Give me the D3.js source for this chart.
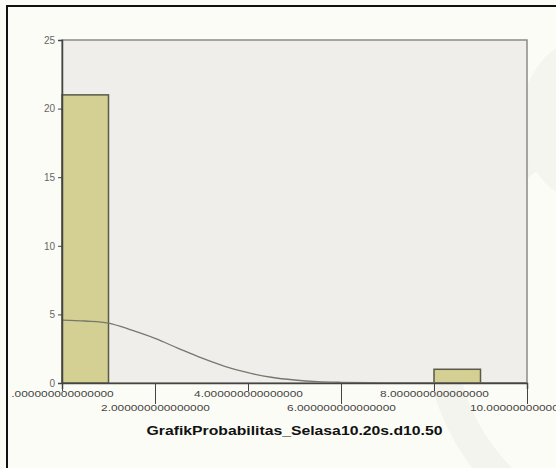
<!DOCTYPE html>
<html>
<head>
<meta charset="utf-8">
<script src="https://cdn.jsdelivr.net/npm/d3@7"></script>
<style>
  body { margin: 0; background: #fcfcf6; }
  svg { display: block; }
</style>
</head>
<body>
<div id="chart"></div>
<script>
// histogram bins (lower edge, upper edge, count)
const binStart = [0, 8];
const binEnd = [1, 9];
const binCount = [21, 1];

// normal curve
const curveX = [0, 0.5, 1, 1.5, 2, 2.5, 3, 3.5, 4, 4.5, 5, 5.5, 6, 7, 8, 9, 10];
const curveY = [4.59, 4.52, 4.37, 3.85, 3.25, 2.53, 1.83, 1.22, 0.75, 0.42, 0.22, 0.1, 0.05, 0.01, 0, 0, 0];

const yTicks = [0, 5, 10, 15, 20, 25];
const xTicks = [0, 2, 4, 6, 8, 10];
const xTickLabels = [".000000000000000", "2.000000000000000", "4.000000000000000",
  "6.000000000000000", "8.000000000000000", "10.000000000000000"];
const xTitle = "GrafikProbabilitas_Selasa10.20s.d10.50";

const W = 556, H = 468;
const plot = { left: 62, top: 40, right: 527, bottom: 383 };

const svg = d3.select("#chart").append("svg")
    .attr("width", W)
    .attr("height", H);

// faint watermark-like background shapes
svg.append("rect").attr("width", W).attr("height", H).attr("fill", "#fcfcf6");
svg.append("circle").attr("cx", 650).attr("cy", 330).attr("r", 210)
    .attr("fill", "none").attr("stroke", "#f4f4ee").attr("stroke-width", 30);
svg.append("circle").attr("cx", 610).attr("cy", 120).attr("r", 90)
    .attr("fill", "#f5f5ef");

// outer frame
svg.append("rect")
    .attr("x", 7).attr("y", 6)
    .attr("width", 600).attr("height", 500)
    .attr("fill", "none")
    .attr("stroke", "#111")
    .attr("stroke-width", 2);

const x = d3.scaleLinear().domain([0, 10]).range([plot.left, plot.right]);
const y = d3.scaleLinear().domain([0, 25]).range([plot.bottom, plot.top]);

// plot background
svg.append("rect")
    .attr("x", plot.left).attr("y", plot.top)
    .attr("width", plot.right - plot.left)
    .attr("height", plot.bottom - plot.top)
    .attr("fill", "#efeeea")
    .attr("stroke", "#8a8a86")
    .attr("stroke-width", 1.5);

// bars
const bins = binCount.map((c, i) => ({ x0: binStart[i], x1: binEnd[i], n: c }));
svg.append("g").selectAll("rect")
    .data(bins)
    .enter().append("rect")
    .attr("x", d => x(d.x0))
    .attr("y", d => y(d.n))
    .attr("width", d => x(d.x1) - x(d.x0))
    .attr("height", d => y(0) - y(d.n))
    .attr("fill", "#d4cf93")
    .attr("stroke", "#5a5a48")
    .attr("stroke-width", 1.5);

// normal curve
const pts = curveX.map((v, i) => [v, curveY[i]]);
svg.append("path")
    .datum(pts)
    .attr("fill", "none")
    .attr("stroke", "#77776f")
    .attr("stroke-width", 1.3)
    .attr("d", d3.line()
        .x(d => x(d[0]))
        .y(d => y(d[1]))
        .curve(d3.curveCatmullRom));

// y axis
const yAxis = svg.append("g")
    .attr("transform", "translate(" + plot.left + ",0)")
    .call(d3.axisLeft(y).tickValues(yTicks).tickSize(4).tickPadding(3));
yAxis.select(".domain").attr("stroke", "#444").attr("stroke-width", 1.5);
yAxis.selectAll(".tick line").attr("stroke", "#444");
yAxis.selectAll("text")
    .attr("fill", "#666")
    .style("font-family", "Arial, 'Liberation Sans', sans-serif")
    .style("font-size", "10px");

// x axis, labels staggered on two rows
const xAxis = svg.append("g")
    .attr("transform", "translate(0," + plot.bottom + ")")
    .call(d3.axisBottom(x).tickValues(xTicks).tickFormat((d, i) => xTickLabels[i]));
xAxis.select(".domain").attr("stroke", "#444").attr("stroke-width", 1.5);
xAxis.selectAll(".tick line")
    .attr("stroke", "#444")
    .attr("y2", (d, i) => i % 2 ? 21 : 8);
xAxis.selectAll(".tick text")
    .attr("y", (d, i) => i % 2 ? 28 : 14)
    .attr("dy", 0)
    .attr("fill", "#444")
    .attr("textLength", (d, i) => xTickLabels[i].length * 6.4)
    .attr("lengthAdjust", "spacingAndGlyphs")
    .style("font-family", "Arial, 'Liberation Sans', sans-serif")
    .style("font-size", "9px");

// axis title
svg.append("text")
    .attr("x", (plot.left + plot.right) / 2)
    .attr("y", 435)
    .attr("text-anchor", "middle")
    .attr("textLength", 296)
    .attr("lengthAdjust", "spacingAndGlyphs")
    .style("font-family", "Arial, 'Liberation Sans', sans-serif")
    .style("font-size", "13px")
    .style("font-weight", "bold")
    .attr("fill", "#111")
    .text(xTitle);
</script>
</body>
</html>
